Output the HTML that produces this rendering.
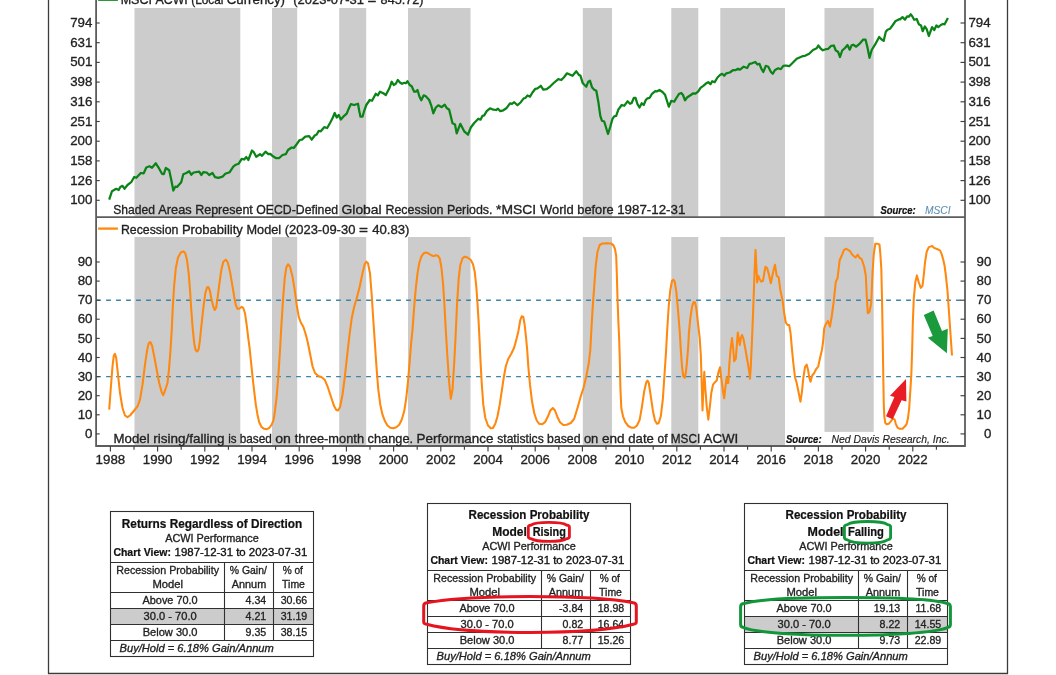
<!DOCTYPE html>
<html><head><meta charset="utf-8"><title>Recession Probability Model</title>
<style>
html,body{margin:0;padding:0;background:#fff;}
body{width:1056px;height:675px;overflow:hidden;}
svg{display:block;font-family:"Liberation Sans", sans-serif;}
text{white-space:pre;}
</style></head><body>
<svg width="1056" height="675" viewBox="0 0 1056 675">
<rect width="1056" height="675" fill="#fff"/>
<rect x="134.5" y="8" width="105.8" height="209.1" fill="#cccccc"/>
<rect x="134.5" y="237" width="105.8" height="209.0" fill="#cccccc"/>
<rect x="272.0" y="8" width="25.2" height="209.1" fill="#cccccc"/>
<rect x="272.0" y="237" width="25.2" height="209.0" fill="#cccccc"/>
<rect x="339.2" y="8" width="27.0" height="209.1" fill="#cccccc"/>
<rect x="339.2" y="237" width="27.0" height="209.0" fill="#cccccc"/>
<rect x="408.0" y="8" width="62.5" height="209.1" fill="#cccccc"/>
<rect x="408.0" y="237" width="62.5" height="209.0" fill="#cccccc"/>
<rect x="582.8" y="8" width="29.2" height="209.1" fill="#cccccc"/>
<rect x="582.8" y="237" width="29.2" height="209.0" fill="#cccccc"/>
<rect x="671.3" y="8" width="27.0" height="209.1" fill="#cccccc"/>
<rect x="671.3" y="237" width="27.0" height="209.0" fill="#cccccc"/>
<rect x="720.3" y="8" width="64.7" height="209.1" fill="#cccccc"/>
<rect x="720.3" y="237" width="64.7" height="209.0" fill="#cccccc"/>
<rect x="824.5" y="8" width="49.2" height="209.1" fill="#cccccc"/>
<rect x="824.5" y="237" width="49.2" height="209.0" fill="#cccccc"/>
<line x1="96.1" x2="965.0" y1="300.2" y2="300.2" stroke="#3d84a8" stroke-width="1.4" stroke-dasharray="4.8 5.2"/>
<line x1="96.1" x2="965.0" y1="376.6" y2="376.6" stroke="#3d84a8" stroke-width="1.4" stroke-dasharray="4.8 5.2"/>
<rect x="785.3" y="431.9" width="166" height="13.6" fill="#fff"/>
<path d="M109.2,199.7 L112.0,191.2 L116.2,188.8 L118.7,190.0 L120.3,187.0 L122.5,185.8 L124.5,188.7 L127.5,185.0 L131.2,182.2 L134.2,177.0 L136.3,177.8 L140.8,173.0 L143.7,173.3 L146.3,167.5 L149.5,166.3 L152.0,167.8 L155.8,163.3 L159.2,168.7 L162.0,173.8 L163.8,174.2 L165.8,168.0 L169.2,170.3 L171.3,180.0 L173.3,190.5 L175.3,186.7 L177.0,187.0 L181.2,182.2 L183.3,174.2 L186.3,173.0 L189.2,171.3 L191.3,174.7 L193.7,172.5 L199.2,171.7 L201.3,175.0 L203.3,172.2 L206.7,172.5 L209.2,175.0 L212.5,173.0 L215.0,177.2 L218.3,177.8 L222.5,176.7 L225.3,173.8 L229.7,172.2 L233.3,166.7 L235.8,164.7 L238.7,163.7 L241.7,158.8 L244.2,159.5 L246.3,157.0 L248.3,160.0 L252.0,150.5 L253.7,152.0 L256.2,156.7 L260.0,154.2 L262.0,155.8 L265.5,151.7 L268.3,154.2 L270.3,153.8 L273.0,156.3 L275.8,158.0 L279.2,158.0 L282.5,155.0 L285.8,154.2 L288.0,150.0 L291.7,147.5 L293.8,148.0 L296.7,144.2 L299.7,140.0 L302.0,139.7 L305.3,136.7 L309.2,136.2 L311.7,139.7 L314.7,135.5 L316.7,134.5 L318.8,130.8 L320.8,131.3 L324.2,127.2 L327.2,128.0 L330.3,122.5 L332.5,118.3 L334.7,113.0 L336.7,117.5 L338.7,115.0 L340.8,119.5 L343.3,116.7 L346.7,113.7 L348.7,108.7 L350.8,104.2 L354.2,105.0 L358.0,103.7 L359.2,110.8 L360.5,116.7 L362.5,116.7 L364.2,110.8 L366.3,105.0 L369.7,100.0 L372.0,100.8 L375.8,93.8 L377.8,95.3 L380.0,91.7 L383.3,93.3 L385.8,95.0 L389.5,88.0 L391.7,81.7 L393.7,85.0 L395.8,83.8 L397.8,80.0 L400.0,82.5 L402.0,83.8 L404.2,82.8 L405.8,83.3 L407.5,81.2 L409.7,85.0 L411.7,86.3 L414.2,91.7 L415.8,91.7 L417.5,90.0 L419.5,96.7 L421.3,100.3 L423.7,95.3 L425.8,96.3 L429.2,100.0 L431.2,105.3 L433.3,113.3 L435.8,107.5 L438.3,105.3 L441.7,107.2 L444.7,104.7 L446.7,108.0 L449.2,109.7 L452.5,123.3 L455.0,124.5 L456.7,133.3 L460.3,123.8 L464.2,131.3 L468.0,134.7 L470.8,127.5 L474.2,123.0 L478.3,118.7 L480.5,119.7 L482.5,115.8 L484.2,115.3 L486.7,111.2 L490.0,108.3 L493.3,109.7 L496.2,110.0 L498.0,108.7 L500.3,111.2 L503.3,110.3 L506.3,108.3 L510.0,103.3 L512.0,103.8 L514.2,102.2 L517.5,105.3 L520.8,102.2 L523.7,98.3 L525.3,98.0 L527.5,95.5 L530.0,96.7 L532.5,92.5 L535.3,88.8 L537.5,88.3 L540.8,85.8 L543.3,89.7 L546.7,89.2 L550.3,86.3 L553.7,83.0 L558.3,79.2 L561.3,80.0 L564.2,77.0 L567.0,73.3 L569.2,74.2 L572.5,75.8 L576.3,71.3 L578.7,74.7 L580.5,75.8 L582.8,83.3 L586.3,86.7 L588.3,81.7 L590.0,80.8 L592.0,87.2 L594.2,89.7 L596.3,90.8 L598.3,101.7 L600.3,115.8 L602.0,120.8 L604.2,121.5 L608.0,134.0 L610.2,127.0 L612.5,118.8 L614.2,116.3 L616.2,115.8 L618.3,109.7 L621.7,105.0 L624.2,105.8 L627.5,101.3 L630.0,103.8 L631.7,103.0 L633.8,97.8 L635.5,97.8 L637.5,104.2 L639.5,107.5 L641.7,103.3 L643.7,105.0 L645.8,100.0 L647.5,98.3 L649.7,97.8 L652.0,93.8 L655.3,91.2 L657.2,91.3 L659.5,90.0 L662.5,92.0 L665.0,94.7 L666.7,100.0 L668.8,106.7 L671.3,100.8 L674.2,101.7 L676.7,97.5 L679.2,93.7 L681.3,93.0 L683.0,95.0 L685.0,100.3 L687.0,97.5 L690.8,95.0 L693.3,93.3 L695.5,93.7 L698.3,91.3 L700.5,87.8 L703.3,85.8 L706.2,83.3 L708.3,82.2 L710.5,84.2 L712.2,81.2 L714.7,82.2 L717.5,77.5 L720.0,75.0 L722.2,73.8 L724.2,75.8 L726.3,73.3 L729.7,72.5 L733.3,70.0 L735.8,70.0 L738.0,68.7 L740.0,69.7 L743.7,66.7 L747.2,68.0 L749.5,63.8 L752.0,63.3 L755.3,62.0 L757.5,64.5 L759.5,63.8 L761.3,68.7 L763.3,72.0 L765.8,65.8 L768.3,66.7 L770.8,71.7 L772.8,73.8 L775.0,70.0 L778.3,68.3 L780.8,69.2 L783.3,65.8 L785.8,65.5 L789.2,66.2 L792.5,63.0 L796.7,58.8 L802.5,56.2 L805.0,55.8 L809.2,53.8 L813.0,50.0 L816.7,48.3 L818.3,45.5 L820.5,48.3 L822.8,50.3 L825.8,49.2 L828.3,48.8 L831.2,45.8 L833.8,45.5 L835.8,50.5 L838.0,51.7 L840.0,57.0 L842.2,50.5 L845.0,48.0 L847.5,45.0 L849.7,49.7 L851.7,45.3 L853.3,44.7 L856.2,46.7 L860.0,43.3 L863.3,39.5 L865.5,39.5 L867.5,47.5 L869.5,57.8 L871.7,50.0 L875.3,44.2 L879.2,37.0 L881.3,39.2 L883.7,40.8 L885.8,31.7 L887.5,29.7 L890.0,28.8 L892.8,25.0 L895.3,21.3 L899.2,19.2 L900.0,19.3 L902.5,17.1 L905.0,19.6 L907.1,16.3 L908.8,16.7 L910.8,14.3 L912.5,16.7 L914.2,19.8 L916.7,19.0 L918.8,24.2 L921.0,25.4 L922.7,31.2 L924.8,26.5 L926.7,29.2 L928.8,36.0 L932.1,27.1 L934.3,30.0 L936.4,25.4 L938.3,27.1 L940.8,25.0 L942.9,24.0 L944.6,24.3 L947.9,17.9" fill="none" stroke="#0a8416" stroke-width="2.25" stroke-linejoin="round" stroke-linecap="butt"/>
<path d="M109.2,409.7 L110.8,388.0 L112.5,366.3 L113.8,355.5 L115.0,353.8 L116.2,358.0 L118.0,374.7 L120.0,393.0 L122.5,408.0 L125.0,415.5 L127.5,417.2 L130.0,415.5 L134.2,410.5 L137.5,406.3 L140.0,399.7 L142.5,384.7 L145.0,364.7 L147.2,349.7 L148.8,343.0 L150.3,342.0 L152.0,345.5 L154.2,356.3 L156.7,369.7 L159.2,383.0 L161.7,392.2 L163.3,395.2 L165.3,389.7 L167.5,383.0 L168.8,371.3 L170.3,353.0 L171.7,331.0 L172.8,306.7 L174.2,285.0 L175.8,268.3 L178.0,257.5 L180.8,252.5 L183.3,251.3 L185.3,253.3 L187.0,260.0 L188.7,273.3 L190.0,290.0 L191.3,310.0 L192.7,328.3 L194.2,343.2 L195.5,349.8 L197.0,351.5 L198.5,349.8 L199.8,341.5 L201.3,326.7 L203.3,308.3 L205.3,293.3 L207.0,287.5 L208.3,287.0 L209.7,290.0 L211.3,298.3 L213.3,306.7 L214.7,310.0 L216.2,307.5 L217.5,298.3 L219.2,285.0 L221.3,270.0 L223.3,261.7 L225.8,259.7 L227.8,262.5 L230.0,271.7 L232.0,283.3 L234.2,296.7 L235.8,305.0 L237.5,308.7 L239.2,308.7 L241.7,306.7 L243.3,308.0 L245.0,313.3 L246.7,325.0 L248.3,338.3 L249.6,348.0 L250.8,359.7 L252.5,376.3 L254.2,391.3 L255.8,404.7 L257.5,414.7 L259.2,422.2 L261.7,427.2 L264.2,428.8 L266.7,429.2 L269.2,428.0 L271.7,424.7 L273.5,420.0 L274.7,413.0 L276.7,396.3 L278.3,376.3 L280.0,350.5 L281.3,326.7 L283.0,300.0 L284.7,278.3 L286.3,267.5 L288.0,264.2 L290.0,266.7 L292.5,276.7 L294.7,290.0 L296.7,305.0 L298.7,316.7 L300.8,322.5 L303.3,326.7 L305.5,333.5 L307.7,342.0 L310.0,353.5 L312.5,366.3 L315.0,373.0 L318.3,376.0 L321.7,377.2 L324.7,379.7 L327.5,386.3 L330.8,396.3 L334.2,406.3 L336.3,410.0 L338.0,410.5 L340.0,407.2 L342.5,394.7 L344.7,378.0 L346.7,359.7 L348.5,343.5 L349.7,333.3 L351.7,318.3 L354.2,306.7 L356.7,298.3 L359.7,286.7 L362.5,273.3 L364.7,264.2 L366.3,261.7 L368.0,263.3 L370.0,273.3 L371.7,295.0 L373.3,320.0 L374.6,339.0 L375.4,351.0 L376.7,369.7 L378.3,389.7 L380.3,404.7 L382.5,414.7 L385.0,421.3 L387.5,425.5 L390.3,427.7 L393.3,428.3 L396.3,427.2 L399.2,424.7 L401.7,419.7 L404.2,411.3 L406.3,398.0 L408.0,381.3 L409.7,361.3 L411.1,343.5 L412.5,330.0 L414.2,306.7 L415.8,288.3 L417.5,273.3 L419.2,263.3 L421.3,256.7 L423.7,253.3 L425.8,252.5 L428.3,253.3 L430.8,255.0 L433.3,256.2 L435.8,255.3 L438.0,255.8 L439.7,258.3 L441.3,266.7 L443.0,283.0 L444.4,304.0 L445.6,327.0 L447.3,355.0 L449.2,383.0 L450.8,398.8 L452.5,389.7 L454.2,363.0 L455.5,338.0 L457.0,305.0 L458.7,278.3 L460.3,265.0 L462.5,258.3 L464.7,256.7 L467.5,257.5 L470.8,260.0 L473.0,264.2 L474.7,271.7 L476.3,286.7 L477.5,303.3 L478.7,323.3 L479.6,341.0 L480.4,359.0 L481.7,383.0 L483.3,404.7 L485.3,418.0 L488.0,425.5 L490.8,428.3 L493.0,428.0 L495.3,423.8 L497.5,416.3 L499.7,404.7 L501.7,391.3 L503.7,378.0 L505.8,366.3 L508.3,358.8 L511.3,353.8 L514.2,347.5 L516.3,339.7 L518.3,331.7 L520.3,320.0 L521.7,316.3 L523.3,317.0 L524.7,325.0 L526.2,339.0 L527.2,350.0 L528.3,366.3 L530.0,384.7 L532.0,401.3 L534.2,413.0 L536.7,420.5 L539.2,423.8 L542.0,424.3 L545.0,422.2 L548.0,416.3 L550.3,410.5 L552.8,408.0 L555.0,410.5 L557.5,417.2 L560.0,422.2 L563.3,425.0 L566.7,424.7 L570.8,423.0 L574.2,418.8 L577.5,408.0 L580.8,396.3 L583.7,387.2 L586.3,376.3 L588.8,363.0 L590.3,350.0 L591.2,333.3 L592.5,310.0 L594.2,286.7 L595.8,265.0 L597.5,251.7 L599.7,245.0 L602.5,243.5 L606.7,243.3 L610.8,243.5 L613.3,245.0 L615.0,249.0 L616.2,256.0 L616.8,273.3 L617.5,298.3 L618.3,320.0 L619.2,340.0 L619.8,360.0 L620.4,388.0 L621.3,408.0 L623.0,416.3 L625.3,422.2 L628.3,426.0 L631.3,427.7 L634.2,427.7 L637.0,425.5 L639.7,419.7 L642.0,406.3 L644.2,391.3 L646.3,382.2 L647.5,380.5 L648.8,383.0 L650.8,396.3 L653.0,411.3 L655.0,420.5 L657.0,423.8 L658.7,423.0 L660.8,416.3 L662.8,399.7 L664.5,374.7 L666.0,352.0 L667.2,330.0 L668.7,306.7 L670.3,290.0 L672.0,280.8 L673.3,279.7 L674.7,281.7 L676.3,291.7 L678.0,310.0 L679.7,331.0 L680.8,349.7 L682.0,366.3 L683.3,376.3 L684.7,377.7 L685.8,373.0 L687.0,362.0 L688.3,345.0 L688.9,333.3 L690.3,318.3 L692.2,305.8 L693.7,302.0 L695.0,302.5 L696.3,308.3 L698.0,323.3 L699.7,338.0 L700.8,354.7 L701.7,383.0 L702.5,410.5 L703.3,391.3 L704.3,371.8 L705.3,388.0 L706.7,406.3 L708.3,419.7 L709.7,408.0 L711.3,393.0 L713.0,384.7 L715.0,382.2 L716.7,380.5 L718.7,371.3 L720.0,367.2 L721.3,378.0 L723.0,391.3 L724.2,398.3 L725.3,388.0 L726.7,377.2 L727.5,383.0 L728.3,383.0 L729.2,366.3 L730.5,349.7 L732.0,338.0 L733.3,350.0 L734.2,361.3 L735.8,358.8 L737.0,343.0 L737.8,332.5 L738.8,338.3 L739.8,345.0 L740.8,338.3 L742.0,335.0 L743.3,338.3 L745.0,347.0 L747.5,361.3 L749.2,371.3 L750.0,378.8 L750.8,366.3 L752.0,340.0 L753.3,306.7 L754.5,273.3 L755.5,250.0 L756.3,265.0 L757.2,282.5 L758.3,275.8 L759.7,279.2 L761.3,281.7 L763.0,280.8 L764.2,273.3 L765.5,266.7 L767.2,268.3 L769.2,275.8 L770.8,283.3 L772.5,275.0 L774.2,267.5 L775.0,264.7 L776.7,275.8 L778.7,277.5 L780.3,290.0 L782.5,300.0 L784.2,313.3 L785.8,322.5 L787.5,325.0 L789.2,325.0 L790.6,333.3 L791.7,346.3 L793.3,363.0 L795.0,377.2 L796.7,383.0 L798.7,393.0 L800.5,401.7 L802.0,391.3 L803.3,378.0 L805.0,367.2 L806.7,364.7 L808.0,369.7 L809.2,377.2 L810.5,381.7 L812.2,375.5 L814.2,373.0 L816.3,368.8 L818.3,366.3 L820.0,358.0 L822.0,349.7 L823.2,341.0 L824.2,328.3 L825.8,324.2 L828.0,320.8 L830.0,326.7 L831.7,316.7 L833.7,301.7 L835.8,281.7 L837.5,278.3 L839.7,260.0 L841.7,255.8 L843.8,250.3 L845.8,248.7 L849.7,250.8 L852.5,255.0 L855.5,257.5 L857.8,254.7 L859.7,258.0 L861.7,259.2 L864.2,266.7 L865.8,275.8 L866.7,295.0 L867.8,313.3 L869.5,311.7 L871.2,303.3 L872.5,273.3 L873.7,255.0 L875.3,243.7 L877.5,243.7 L879.5,244.7 L880.3,253.3 L881.3,268.3 L882.0,298.3 L882.6,331.7 L883.0,358.0 L883.4,383.0 L883.8,404.7 L884.3,416.3 L885.3,423.0 L886.7,424.3 L888.7,423.8 L890.8,421.3 L893.0,418.3 L894.7,419.7 L895.8,423.8 L897.5,427.7 L899.7,428.8 L902.5,428.8 L905.0,426.3 L906.7,423.8 L908.0,418.0 L909.2,408.0 L910.3,391.3 L911.3,374.7 L912.1,352.0 L912.8,323.3 L913.8,298.3 L915.4,281.7 L916.9,275.4 L918.8,282.5 L920.8,287.9 L922.5,285.8 L923.8,275.0 L925.0,262.5 L926.7,251.7 L928.8,247.1 L932.1,246.0 L934.2,247.9 L937.5,249.3 L940.0,250.4 L941.7,254.2 L943.3,260.0 L944.6,265.8 L945.8,275.0 L946.7,283.3 L947.5,291.0 L952.0,355.5" fill="none" stroke="#ff880e" stroke-width="2.05" stroke-linejoin="round" stroke-linecap="butt"/>
<line x1="98.1" x2="117.9" y1="-0.3" y2="-0.3" stroke="#0a8416" stroke-width="2.3"/>
<line x1="98.1" x2="117.9" y1="228.6" y2="228.6" stroke="#ff880e" stroke-width="2.3"/>
<path d="M48.5,0 V673.5 H1007.5 V0" fill="none" stroke="#3c3c3c" stroke-width="1.3"/>
<path d="M96.1,0 V446.0 H965.0 V0" fill="none" stroke="#5c5c5c" stroke-width="1.8"/>
<line x1="96.1" x2="965.0" y1="217.05" y2="217.05" stroke="#5c5c5c" stroke-width="1.7"/>
<line x1="96.1" x2="99.69999999999999" y1="23.0" y2="23.0" stroke="#404040" stroke-width="1.15"/>
<line x1="960.5" x2="965.0" y1="23.0" y2="23.0" stroke="#404040" stroke-width="1.15"/>
<text xml:space="preserve" x="92.4" y="27.0" font-size="13.3" font-weight="normal" font-style="normal" text-anchor="end" fill="#222" stroke="#222" stroke-width="0.32" textLength="22.2" lengthAdjust="spacingAndGlyphs">794</text>
<text xml:space="preserve" x="968.4" y="27.0" font-size="13.3" font-weight="normal" font-style="normal" text-anchor="start" fill="#222" stroke="#222" stroke-width="0.32" textLength="22.2" lengthAdjust="spacingAndGlyphs">794</text>
<line x1="96.1" x2="99.69999999999999" y1="42.7" y2="42.7" stroke="#404040" stroke-width="1.15"/>
<line x1="960.5" x2="965.0" y1="42.7" y2="42.7" stroke="#404040" stroke-width="1.15"/>
<text xml:space="preserve" x="92.4" y="46.7" font-size="13.3" font-weight="normal" font-style="normal" text-anchor="end" fill="#222" stroke="#222" stroke-width="0.32" textLength="22.2" lengthAdjust="spacingAndGlyphs">631</text>
<text xml:space="preserve" x="968.4" y="46.7" font-size="13.3" font-weight="normal" font-style="normal" text-anchor="start" fill="#222" stroke="#222" stroke-width="0.32" textLength="22.2" lengthAdjust="spacingAndGlyphs">631</text>
<line x1="96.1" x2="99.69999999999999" y1="62.4" y2="62.4" stroke="#404040" stroke-width="1.15"/>
<line x1="960.5" x2="965.0" y1="62.4" y2="62.4" stroke="#404040" stroke-width="1.15"/>
<text xml:space="preserve" x="92.4" y="66.4" font-size="13.3" font-weight="normal" font-style="normal" text-anchor="end" fill="#222" stroke="#222" stroke-width="0.32" textLength="22.2" lengthAdjust="spacingAndGlyphs">501</text>
<text xml:space="preserve" x="968.4" y="66.4" font-size="13.3" font-weight="normal" font-style="normal" text-anchor="start" fill="#222" stroke="#222" stroke-width="0.32" textLength="22.2" lengthAdjust="spacingAndGlyphs">501</text>
<line x1="96.1" x2="99.69999999999999" y1="82.1" y2="82.1" stroke="#404040" stroke-width="1.15"/>
<line x1="960.5" x2="965.0" y1="82.1" y2="82.1" stroke="#404040" stroke-width="1.15"/>
<text xml:space="preserve" x="92.4" y="86.1" font-size="13.3" font-weight="normal" font-style="normal" text-anchor="end" fill="#222" stroke="#222" stroke-width="0.32" textLength="22.2" lengthAdjust="spacingAndGlyphs">398</text>
<text xml:space="preserve" x="968.4" y="86.1" font-size="13.3" font-weight="normal" font-style="normal" text-anchor="start" fill="#222" stroke="#222" stroke-width="0.32" textLength="22.2" lengthAdjust="spacingAndGlyphs">398</text>
<line x1="96.1" x2="99.69999999999999" y1="101.8" y2="101.8" stroke="#404040" stroke-width="1.15"/>
<line x1="960.5" x2="965.0" y1="101.8" y2="101.8" stroke="#404040" stroke-width="1.15"/>
<text xml:space="preserve" x="92.4" y="105.8" font-size="13.3" font-weight="normal" font-style="normal" text-anchor="end" fill="#222" stroke="#222" stroke-width="0.32" textLength="22.2" lengthAdjust="spacingAndGlyphs">316</text>
<text xml:space="preserve" x="968.4" y="105.8" font-size="13.3" font-weight="normal" font-style="normal" text-anchor="start" fill="#222" stroke="#222" stroke-width="0.32" textLength="22.2" lengthAdjust="spacingAndGlyphs">316</text>
<line x1="96.1" x2="99.69999999999999" y1="121.5" y2="121.5" stroke="#404040" stroke-width="1.15"/>
<line x1="960.5" x2="965.0" y1="121.5" y2="121.5" stroke="#404040" stroke-width="1.15"/>
<text xml:space="preserve" x="92.4" y="125.5" font-size="13.3" font-weight="normal" font-style="normal" text-anchor="end" fill="#222" stroke="#222" stroke-width="0.32" textLength="22.2" lengthAdjust="spacingAndGlyphs">251</text>
<text xml:space="preserve" x="968.4" y="125.5" font-size="13.3" font-weight="normal" font-style="normal" text-anchor="start" fill="#222" stroke="#222" stroke-width="0.32" textLength="22.2" lengthAdjust="spacingAndGlyphs">251</text>
<line x1="96.1" x2="99.69999999999999" y1="141.2" y2="141.2" stroke="#404040" stroke-width="1.15"/>
<line x1="960.5" x2="965.0" y1="141.2" y2="141.2" stroke="#404040" stroke-width="1.15"/>
<text xml:space="preserve" x="92.4" y="145.2" font-size="13.3" font-weight="normal" font-style="normal" text-anchor="end" fill="#222" stroke="#222" stroke-width="0.32" textLength="22.2" lengthAdjust="spacingAndGlyphs">200</text>
<text xml:space="preserve" x="968.4" y="145.2" font-size="13.3" font-weight="normal" font-style="normal" text-anchor="start" fill="#222" stroke="#222" stroke-width="0.32" textLength="22.2" lengthAdjust="spacingAndGlyphs">200</text>
<line x1="96.1" x2="99.69999999999999" y1="160.9" y2="160.9" stroke="#404040" stroke-width="1.15"/>
<line x1="960.5" x2="965.0" y1="160.9" y2="160.9" stroke="#404040" stroke-width="1.15"/>
<text xml:space="preserve" x="92.4" y="164.9" font-size="13.3" font-weight="normal" font-style="normal" text-anchor="end" fill="#222" stroke="#222" stroke-width="0.32" textLength="22.2" lengthAdjust="spacingAndGlyphs">158</text>
<text xml:space="preserve" x="968.4" y="164.9" font-size="13.3" font-weight="normal" font-style="normal" text-anchor="start" fill="#222" stroke="#222" stroke-width="0.32" textLength="22.2" lengthAdjust="spacingAndGlyphs">158</text>
<line x1="96.1" x2="99.69999999999999" y1="180.6" y2="180.6" stroke="#404040" stroke-width="1.15"/>
<line x1="960.5" x2="965.0" y1="180.6" y2="180.6" stroke="#404040" stroke-width="1.15"/>
<text xml:space="preserve" x="92.4" y="184.6" font-size="13.3" font-weight="normal" font-style="normal" text-anchor="end" fill="#222" stroke="#222" stroke-width="0.32" textLength="22.2" lengthAdjust="spacingAndGlyphs">126</text>
<text xml:space="preserve" x="968.4" y="184.6" font-size="13.3" font-weight="normal" font-style="normal" text-anchor="start" fill="#222" stroke="#222" stroke-width="0.32" textLength="22.2" lengthAdjust="spacingAndGlyphs">126</text>
<line x1="96.1" x2="99.69999999999999" y1="200.3" y2="200.3" stroke="#404040" stroke-width="1.15"/>
<line x1="960.5" x2="965.0" y1="200.3" y2="200.3" stroke="#404040" stroke-width="1.15"/>
<text xml:space="preserve" x="92.4" y="204.3" font-size="13.3" font-weight="normal" font-style="normal" text-anchor="end" fill="#222" stroke="#222" stroke-width="0.32" textLength="22.2" lengthAdjust="spacingAndGlyphs">100</text>
<text xml:space="preserve" x="968.4" y="204.3" font-size="13.3" font-weight="normal" font-style="normal" text-anchor="start" fill="#222" stroke="#222" stroke-width="0.32" textLength="22.2" lengthAdjust="spacingAndGlyphs">100</text>
<line x1="96.1" x2="99.69999999999999" y1="433.9" y2="433.9" stroke="#404040" stroke-width="1.15"/>
<line x1="960.5" x2="965.0" y1="433.9" y2="433.9" stroke="#404040" stroke-width="1.15"/>
<text xml:space="preserve" x="92.5" y="438.0" font-size="13.3" font-weight="normal" font-style="normal" text-anchor="end" fill="#222" stroke="#222" stroke-width="0.32" textLength="7.4" lengthAdjust="spacingAndGlyphs">0</text>
<text xml:space="preserve" x="991.3" y="438.0" font-size="13.3" font-weight="normal" font-style="normal" text-anchor="end" fill="#222" stroke="#222" stroke-width="0.32" textLength="7.4" lengthAdjust="spacingAndGlyphs">0</text>
<line x1="96.1" x2="99.69999999999999" y1="414.8" y2="414.8" stroke="#404040" stroke-width="1.15"/>
<line x1="960.5" x2="965.0" y1="414.8" y2="414.8" stroke="#404040" stroke-width="1.15"/>
<text xml:space="preserve" x="92.5" y="418.9" font-size="13.3" font-weight="normal" font-style="normal" text-anchor="end" fill="#222" stroke="#222" stroke-width="0.32" textLength="14.8" lengthAdjust="spacingAndGlyphs">10</text>
<text xml:space="preserve" x="991.3" y="418.9" font-size="13.3" font-weight="normal" font-style="normal" text-anchor="end" fill="#222" stroke="#222" stroke-width="0.32" textLength="14.8" lengthAdjust="spacingAndGlyphs">10</text>
<line x1="96.1" x2="99.69999999999999" y1="395.7" y2="395.7" stroke="#404040" stroke-width="1.15"/>
<line x1="960.5" x2="965.0" y1="395.7" y2="395.7" stroke="#404040" stroke-width="1.15"/>
<text xml:space="preserve" x="92.5" y="399.8" font-size="13.3" font-weight="normal" font-style="normal" text-anchor="end" fill="#222" stroke="#222" stroke-width="0.32" textLength="14.8" lengthAdjust="spacingAndGlyphs">20</text>
<text xml:space="preserve" x="991.3" y="399.8" font-size="13.3" font-weight="normal" font-style="normal" text-anchor="end" fill="#222" stroke="#222" stroke-width="0.32" textLength="14.8" lengthAdjust="spacingAndGlyphs">20</text>
<line x1="96.1" x2="99.69999999999999" y1="376.6" y2="376.6" stroke="#404040" stroke-width="1.15"/>
<line x1="960.5" x2="965.0" y1="376.6" y2="376.6" stroke="#404040" stroke-width="1.15"/>
<text xml:space="preserve" x="92.5" y="380.7" font-size="13.3" font-weight="normal" font-style="normal" text-anchor="end" fill="#222" stroke="#222" stroke-width="0.32" textLength="14.8" lengthAdjust="spacingAndGlyphs">30</text>
<text xml:space="preserve" x="991.3" y="380.7" font-size="13.3" font-weight="normal" font-style="normal" text-anchor="end" fill="#222" stroke="#222" stroke-width="0.32" textLength="14.8" lengthAdjust="spacingAndGlyphs">30</text>
<line x1="96.1" x2="99.69999999999999" y1="357.5" y2="357.5" stroke="#404040" stroke-width="1.15"/>
<line x1="960.5" x2="965.0" y1="357.5" y2="357.5" stroke="#404040" stroke-width="1.15"/>
<text xml:space="preserve" x="92.5" y="361.6" font-size="13.3" font-weight="normal" font-style="normal" text-anchor="end" fill="#222" stroke="#222" stroke-width="0.32" textLength="14.8" lengthAdjust="spacingAndGlyphs">40</text>
<text xml:space="preserve" x="991.3" y="361.6" font-size="13.3" font-weight="normal" font-style="normal" text-anchor="end" fill="#222" stroke="#222" stroke-width="0.32" textLength="14.8" lengthAdjust="spacingAndGlyphs">40</text>
<line x1="96.1" x2="99.69999999999999" y1="338.4" y2="338.4" stroke="#404040" stroke-width="1.15"/>
<line x1="960.5" x2="965.0" y1="338.4" y2="338.4" stroke="#404040" stroke-width="1.15"/>
<text xml:space="preserve" x="92.5" y="342.5" font-size="13.3" font-weight="normal" font-style="normal" text-anchor="end" fill="#222" stroke="#222" stroke-width="0.32" textLength="14.8" lengthAdjust="spacingAndGlyphs">50</text>
<text xml:space="preserve" x="991.3" y="342.5" font-size="13.3" font-weight="normal" font-style="normal" text-anchor="end" fill="#222" stroke="#222" stroke-width="0.32" textLength="14.8" lengthAdjust="spacingAndGlyphs">50</text>
<line x1="96.1" x2="99.69999999999999" y1="319.2" y2="319.2" stroke="#404040" stroke-width="1.15"/>
<line x1="960.5" x2="965.0" y1="319.2" y2="319.2" stroke="#404040" stroke-width="1.15"/>
<text xml:space="preserve" x="92.5" y="323.4" font-size="13.3" font-weight="normal" font-style="normal" text-anchor="end" fill="#222" stroke="#222" stroke-width="0.32" textLength="14.8" lengthAdjust="spacingAndGlyphs">60</text>
<text xml:space="preserve" x="991.3" y="323.4" font-size="13.3" font-weight="normal" font-style="normal" text-anchor="end" fill="#222" stroke="#222" stroke-width="0.32" textLength="14.8" lengthAdjust="spacingAndGlyphs">60</text>
<line x1="96.1" x2="99.69999999999999" y1="300.2" y2="300.2" stroke="#404040" stroke-width="1.15"/>
<line x1="960.5" x2="965.0" y1="300.2" y2="300.2" stroke="#404040" stroke-width="1.15"/>
<text xml:space="preserve" x="92.5" y="304.3" font-size="13.3" font-weight="normal" font-style="normal" text-anchor="end" fill="#222" stroke="#222" stroke-width="0.32" textLength="14.8" lengthAdjust="spacingAndGlyphs">70</text>
<text xml:space="preserve" x="991.3" y="304.3" font-size="13.3" font-weight="normal" font-style="normal" text-anchor="end" fill="#222" stroke="#222" stroke-width="0.32" textLength="14.8" lengthAdjust="spacingAndGlyphs">70</text>
<line x1="96.1" x2="99.69999999999999" y1="281.1" y2="281.1" stroke="#404040" stroke-width="1.15"/>
<line x1="960.5" x2="965.0" y1="281.1" y2="281.1" stroke="#404040" stroke-width="1.15"/>
<text xml:space="preserve" x="92.5" y="285.2" font-size="13.3" font-weight="normal" font-style="normal" text-anchor="end" fill="#222" stroke="#222" stroke-width="0.32" textLength="14.8" lengthAdjust="spacingAndGlyphs">80</text>
<text xml:space="preserve" x="991.3" y="285.2" font-size="13.3" font-weight="normal" font-style="normal" text-anchor="end" fill="#222" stroke="#222" stroke-width="0.32" textLength="14.8" lengthAdjust="spacingAndGlyphs">80</text>
<line x1="96.1" x2="99.69999999999999" y1="262.0" y2="262.0" stroke="#404040" stroke-width="1.15"/>
<line x1="960.5" x2="965.0" y1="262.0" y2="262.0" stroke="#404040" stroke-width="1.15"/>
<text xml:space="preserve" x="92.5" y="266.1" font-size="13.3" font-weight="normal" font-style="normal" text-anchor="end" fill="#222" stroke="#222" stroke-width="0.32" textLength="14.8" lengthAdjust="spacingAndGlyphs">90</text>
<text xml:space="preserve" x="991.3" y="266.1" font-size="13.3" font-weight="normal" font-style="normal" text-anchor="end" fill="#222" stroke="#222" stroke-width="0.32" textLength="14.8" lengthAdjust="spacingAndGlyphs">90</text>
<line x1="110.4" x2="110.4" y1="446.0" y2="451.5" stroke="#404040" stroke-width="1.15"/>
<text xml:space="preserve" x="110.4" y="464.2" font-size="13.3" font-weight="normal" font-style="normal" text-anchor="middle" fill="#222" stroke="#222" stroke-width="0.32" textLength="29.6" lengthAdjust="spacingAndGlyphs">1988</text>
<line x1="134.0" x2="134.0" y1="446.0" y2="449.8" stroke="#404040" stroke-width="1.15"/>
<line x1="157.6" x2="157.6" y1="446.0" y2="451.5" stroke="#404040" stroke-width="1.15"/>
<text xml:space="preserve" x="157.6" y="464.2" font-size="13.3" font-weight="normal" font-style="normal" text-anchor="middle" fill="#222" stroke="#222" stroke-width="0.32" textLength="29.6" lengthAdjust="spacingAndGlyphs">1990</text>
<line x1="181.2" x2="181.2" y1="446.0" y2="449.8" stroke="#404040" stroke-width="1.15"/>
<line x1="204.8" x2="204.8" y1="446.0" y2="451.5" stroke="#404040" stroke-width="1.15"/>
<text xml:space="preserve" x="204.8" y="464.2" font-size="13.3" font-weight="normal" font-style="normal" text-anchor="middle" fill="#222" stroke="#222" stroke-width="0.32" textLength="29.6" lengthAdjust="spacingAndGlyphs">1992</text>
<line x1="228.4" x2="228.4" y1="446.0" y2="449.8" stroke="#404040" stroke-width="1.15"/>
<line x1="252.0" x2="252.0" y1="446.0" y2="451.5" stroke="#404040" stroke-width="1.15"/>
<text xml:space="preserve" x="252.0" y="464.2" font-size="13.3" font-weight="normal" font-style="normal" text-anchor="middle" fill="#222" stroke="#222" stroke-width="0.32" textLength="29.6" lengthAdjust="spacingAndGlyphs">1994</text>
<line x1="275.6" x2="275.6" y1="446.0" y2="449.8" stroke="#404040" stroke-width="1.15"/>
<line x1="299.2" x2="299.2" y1="446.0" y2="451.5" stroke="#404040" stroke-width="1.15"/>
<text xml:space="preserve" x="299.2" y="464.2" font-size="13.3" font-weight="normal" font-style="normal" text-anchor="middle" fill="#222" stroke="#222" stroke-width="0.32" textLength="29.6" lengthAdjust="spacingAndGlyphs">1996</text>
<line x1="322.8" x2="322.8" y1="446.0" y2="449.8" stroke="#404040" stroke-width="1.15"/>
<line x1="346.4" x2="346.4" y1="446.0" y2="451.5" stroke="#404040" stroke-width="1.15"/>
<text xml:space="preserve" x="346.4" y="464.2" font-size="13.3" font-weight="normal" font-style="normal" text-anchor="middle" fill="#222" stroke="#222" stroke-width="0.32" textLength="29.6" lengthAdjust="spacingAndGlyphs">1998</text>
<line x1="370.0" x2="370.0" y1="446.0" y2="449.8" stroke="#404040" stroke-width="1.15"/>
<line x1="393.6" x2="393.6" y1="446.0" y2="451.5" stroke="#404040" stroke-width="1.15"/>
<text xml:space="preserve" x="393.6" y="464.2" font-size="13.3" font-weight="normal" font-style="normal" text-anchor="middle" fill="#222" stroke="#222" stroke-width="0.32" textLength="29.6" lengthAdjust="spacingAndGlyphs">2000</text>
<line x1="417.2" x2="417.2" y1="446.0" y2="449.8" stroke="#404040" stroke-width="1.15"/>
<line x1="440.8" x2="440.8" y1="446.0" y2="451.5" stroke="#404040" stroke-width="1.15"/>
<text xml:space="preserve" x="440.8" y="464.2" font-size="13.3" font-weight="normal" font-style="normal" text-anchor="middle" fill="#222" stroke="#222" stroke-width="0.32" textLength="29.6" lengthAdjust="spacingAndGlyphs">2002</text>
<line x1="464.4" x2="464.4" y1="446.0" y2="449.8" stroke="#404040" stroke-width="1.15"/>
<line x1="488.0" x2="488.0" y1="446.0" y2="451.5" stroke="#404040" stroke-width="1.15"/>
<text xml:space="preserve" x="488.0" y="464.2" font-size="13.3" font-weight="normal" font-style="normal" text-anchor="middle" fill="#222" stroke="#222" stroke-width="0.32" textLength="29.6" lengthAdjust="spacingAndGlyphs">2004</text>
<line x1="511.6" x2="511.6" y1="446.0" y2="449.8" stroke="#404040" stroke-width="1.15"/>
<line x1="535.2" x2="535.2" y1="446.0" y2="451.5" stroke="#404040" stroke-width="1.15"/>
<text xml:space="preserve" x="535.2" y="464.2" font-size="13.3" font-weight="normal" font-style="normal" text-anchor="middle" fill="#222" stroke="#222" stroke-width="0.32" textLength="29.6" lengthAdjust="spacingAndGlyphs">2006</text>
<line x1="558.8" x2="558.8" y1="446.0" y2="449.8" stroke="#404040" stroke-width="1.15"/>
<line x1="582.4" x2="582.4" y1="446.0" y2="451.5" stroke="#404040" stroke-width="1.15"/>
<text xml:space="preserve" x="582.4" y="464.2" font-size="13.3" font-weight="normal" font-style="normal" text-anchor="middle" fill="#222" stroke="#222" stroke-width="0.32" textLength="29.6" lengthAdjust="spacingAndGlyphs">2008</text>
<line x1="606.0" x2="606.0" y1="446.0" y2="449.8" stroke="#404040" stroke-width="1.15"/>
<line x1="629.6" x2="629.6" y1="446.0" y2="451.5" stroke="#404040" stroke-width="1.15"/>
<text xml:space="preserve" x="629.6" y="464.2" font-size="13.3" font-weight="normal" font-style="normal" text-anchor="middle" fill="#222" stroke="#222" stroke-width="0.32" textLength="29.6" lengthAdjust="spacingAndGlyphs">2010</text>
<line x1="653.2" x2="653.2" y1="446.0" y2="449.8" stroke="#404040" stroke-width="1.15"/>
<line x1="676.8" x2="676.8" y1="446.0" y2="451.5" stroke="#404040" stroke-width="1.15"/>
<text xml:space="preserve" x="676.8" y="464.2" font-size="13.3" font-weight="normal" font-style="normal" text-anchor="middle" fill="#222" stroke="#222" stroke-width="0.32" textLength="29.6" lengthAdjust="spacingAndGlyphs">2012</text>
<line x1="700.4" x2="700.4" y1="446.0" y2="449.8" stroke="#404040" stroke-width="1.15"/>
<line x1="724.0" x2="724.0" y1="446.0" y2="451.5" stroke="#404040" stroke-width="1.15"/>
<text xml:space="preserve" x="724.0" y="464.2" font-size="13.3" font-weight="normal" font-style="normal" text-anchor="middle" fill="#222" stroke="#222" stroke-width="0.32" textLength="29.6" lengthAdjust="spacingAndGlyphs">2014</text>
<line x1="747.6" x2="747.6" y1="446.0" y2="449.8" stroke="#404040" stroke-width="1.15"/>
<line x1="771.2" x2="771.2" y1="446.0" y2="451.5" stroke="#404040" stroke-width="1.15"/>
<text xml:space="preserve" x="771.2" y="464.2" font-size="13.3" font-weight="normal" font-style="normal" text-anchor="middle" fill="#222" stroke="#222" stroke-width="0.32" textLength="29.6" lengthAdjust="spacingAndGlyphs">2016</text>
<line x1="794.8" x2="794.8" y1="446.0" y2="449.8" stroke="#404040" stroke-width="1.15"/>
<line x1="818.4" x2="818.4" y1="446.0" y2="451.5" stroke="#404040" stroke-width="1.15"/>
<text xml:space="preserve" x="818.4" y="464.2" font-size="13.3" font-weight="normal" font-style="normal" text-anchor="middle" fill="#222" stroke="#222" stroke-width="0.32" textLength="29.6" lengthAdjust="spacingAndGlyphs">2018</text>
<line x1="842.0" x2="842.0" y1="446.0" y2="449.8" stroke="#404040" stroke-width="1.15"/>
<line x1="865.6" x2="865.6" y1="446.0" y2="451.5" stroke="#404040" stroke-width="1.15"/>
<text xml:space="preserve" x="865.6" y="464.2" font-size="13.3" font-weight="normal" font-style="normal" text-anchor="middle" fill="#222" stroke="#222" stroke-width="0.32" textLength="29.6" lengthAdjust="spacingAndGlyphs">2020</text>
<line x1="889.2" x2="889.2" y1="446.0" y2="449.8" stroke="#404040" stroke-width="1.15"/>
<line x1="912.8" x2="912.8" y1="446.0" y2="451.5" stroke="#404040" stroke-width="1.15"/>
<text xml:space="preserve" x="912.8" y="464.2" font-size="13.3" font-weight="normal" font-style="normal" text-anchor="middle" fill="#222" stroke="#222" stroke-width="0.32" textLength="29.6" lengthAdjust="spacingAndGlyphs">2022</text>
<line x1="936.4" x2="936.4" y1="446.0" y2="449.8" stroke="#404040" stroke-width="1.15"/>
<text xml:space="preserve" x="120.7" y="3.9" font-size="12.6" font-weight="normal" font-style="normal" text-anchor="start" fill="#222" stroke="#222" stroke-width="0.32" textLength="34.8" lengthAdjust="spacingAndGlyphs">MSCI </text>
<text xml:space="preserve" x="155.5" y="3.9" font-size="12.6" font-weight="normal" font-style="normal" text-anchor="start" fill="#222" stroke="#222" stroke-width="0.32" textLength="35.7" lengthAdjust="spacingAndGlyphs">ACWI </text>
<text xml:space="preserve" x="191.2" y="3.9" font-size="12.6" font-weight="normal" font-style="normal" text-anchor="start" fill="#222" stroke="#222" stroke-width="0.32" textLength="35.5" lengthAdjust="spacingAndGlyphs">(Local </text>
<text xml:space="preserve" x="226.7" y="3.9" font-size="12.6" font-weight="normal" font-style="normal" text-anchor="start" fill="#222" stroke="#222" stroke-width="0.32" textLength="58.3" lengthAdjust="spacingAndGlyphs">Currency)</text>
<text xml:space="preserve" x="285.2" y="3.9" font-size="12.6" font-weight="normal" font-style="normal" text-anchor="start" fill="#222" stroke="#222" stroke-width="0.32">*</text>
<text xml:space="preserve" x="293.3" y="3.9" font-size="12.6" font-weight="normal" font-style="normal" text-anchor="start" fill="#222" stroke="#222" stroke-width="0.32" textLength="74.3" lengthAdjust="spacingAndGlyphs">(2023-07-31 </text>
<text xml:space="preserve" x="367.6" y="3.9" font-size="12.6" font-weight="normal" font-style="normal" text-anchor="start" fill="#222" stroke="#222" stroke-width="0.32" textLength="13.0" lengthAdjust="spacingAndGlyphs">= </text>
<text xml:space="preserve" x="380.6" y="3.9" font-size="12.6" font-weight="normal" font-style="normal" text-anchor="start" fill="#222" stroke="#222" stroke-width="0.32" textLength="42.9" lengthAdjust="spacingAndGlyphs">845.72)</text>
<text xml:space="preserve" x="113.3" y="213.7" font-size="12.6" font-weight="normal" font-style="normal" text-anchor="start" fill="#222" stroke="#222" stroke-width="0.32" textLength="45.0" lengthAdjust="spacingAndGlyphs">Shaded </text>
<text xml:space="preserve" x="158.3" y="213.7" font-size="12.6" font-weight="normal" font-style="normal" text-anchor="start" fill="#222" stroke="#222" stroke-width="0.32" textLength="36.9" lengthAdjust="spacingAndGlyphs">Areas </text>
<text xml:space="preserve" x="195.2" y="213.7" font-size="12.6" font-weight="normal" font-style="normal" text-anchor="start" fill="#222" stroke="#222" stroke-width="0.32" textLength="61.1" lengthAdjust="spacingAndGlyphs">Represent </text>
<text xml:space="preserve" x="256.3" y="213.7" font-size="12.6" font-weight="normal" font-style="normal" text-anchor="start" fill="#222" stroke="#222" stroke-width="0.32" textLength="85.2" lengthAdjust="spacingAndGlyphs">OECD-Defined </text>
<text xml:space="preserve" x="341.5" y="213.7" font-size="12.6" font-weight="normal" font-style="normal" text-anchor="start" fill="#222" stroke="#222" stroke-width="0.32" textLength="44.0" lengthAdjust="spacingAndGlyphs">Global </text>
<text xml:space="preserve" x="385.5" y="213.7" font-size="12.6" font-weight="normal" font-style="normal" text-anchor="start" fill="#222" stroke="#222" stroke-width="0.32" textLength="61.4" lengthAdjust="spacingAndGlyphs">Recession </text>
<text xml:space="preserve" x="446.9" y="213.7" font-size="12.6" font-weight="normal" font-style="normal" text-anchor="start" fill="#222" stroke="#222" stroke-width="0.32" textLength="49.1" lengthAdjust="spacingAndGlyphs">Periods. </text>
<text xml:space="preserve" x="496.0" y="213.7" font-size="12.6" font-weight="normal" font-style="normal" text-anchor="start" fill="#222" stroke="#222" stroke-width="0.32" textLength="44.0" lengthAdjust="spacingAndGlyphs">*MSCI </text>
<text xml:space="preserve" x="540.0" y="213.7" font-size="12.6" font-weight="normal" font-style="normal" text-anchor="start" fill="#222" stroke="#222" stroke-width="0.32" textLength="37.3" lengthAdjust="spacingAndGlyphs">World </text>
<text xml:space="preserve" x="577.3" y="213.7" font-size="12.6" font-weight="normal" font-style="normal" text-anchor="start" fill="#222" stroke="#222" stroke-width="0.32" textLength="39.9" lengthAdjust="spacingAndGlyphs">before </text>
<text xml:space="preserve" x="617.2" y="213.7" font-size="12.6" font-weight="normal" font-style="normal" text-anchor="start" fill="#222" stroke="#222" stroke-width="0.32" textLength="68.1" lengthAdjust="spacingAndGlyphs">1987-12-31</text>
<text xml:space="preserve" x="120.9" y="234.1" font-size="12.6" font-weight="normal" font-style="normal" text-anchor="start" fill="#222" stroke="#222" stroke-width="0.32" textLength="61.0" lengthAdjust="spacingAndGlyphs">Recession </text>
<text xml:space="preserve" x="181.9" y="234.1" font-size="12.6" font-weight="normal" font-style="normal" text-anchor="start" fill="#222" stroke="#222" stroke-width="0.32" textLength="64.6" lengthAdjust="spacingAndGlyphs">Probability </text>
<text xml:space="preserve" x="246.5" y="234.1" font-size="12.6" font-weight="normal" font-style="normal" text-anchor="start" fill="#222" stroke="#222" stroke-width="0.32" textLength="38.2" lengthAdjust="spacingAndGlyphs">Model </text>
<text xml:space="preserve" x="284.7" y="234.1" font-size="12.6" font-weight="normal" font-style="normal" text-anchor="start" fill="#222" stroke="#222" stroke-width="0.32" textLength="74.3" lengthAdjust="spacingAndGlyphs">(2023-09-30 </text>
<text xml:space="preserve" x="359.0" y="234.1" font-size="12.6" font-weight="normal" font-style="normal" text-anchor="start" fill="#222" stroke="#222" stroke-width="0.32" textLength="13.2" lengthAdjust="spacingAndGlyphs">= </text>
<text xml:space="preserve" x="372.2" y="234.1" font-size="12.6" font-weight="normal" font-style="normal" text-anchor="start" fill="#222" stroke="#222" stroke-width="0.32" textLength="37.3" lengthAdjust="spacingAndGlyphs">40.83)</text>
<text xml:space="preserve" x="113.6" y="443.2" font-size="12.6" font-weight="normal" font-style="normal" text-anchor="start" fill="#222" stroke="#222" stroke-width="0.32" textLength="39.7" lengthAdjust="spacingAndGlyphs">Model </text>
<text xml:space="preserve" x="153.3" y="443.2" font-size="12.6" font-weight="normal" font-style="normal" text-anchor="start" fill="#222" stroke="#222" stroke-width="0.32" textLength="74.9" lengthAdjust="spacingAndGlyphs">rising/falling </text>
<text xml:space="preserve" x="228.2" y="443.2" font-size="12.6" font-weight="normal" font-style="normal" text-anchor="start" fill="#222" stroke="#222" stroke-width="0.32" textLength="11.5" lengthAdjust="spacingAndGlyphs">is </text>
<text xml:space="preserve" x="239.7" y="443.2" font-size="12.6" font-weight="normal" font-style="normal" text-anchor="start" fill="#222" stroke="#222" stroke-width="0.32" textLength="35.5" lengthAdjust="spacingAndGlyphs">based </text>
<text xml:space="preserve" x="275.2" y="443.2" font-size="12.6" font-weight="normal" font-style="normal" text-anchor="start" fill="#222" stroke="#222" stroke-width="0.32" textLength="19.6" lengthAdjust="spacingAndGlyphs">on </text>
<text xml:space="preserve" x="294.8" y="443.2" font-size="12.6" font-weight="normal" font-style="normal" text-anchor="start" fill="#222" stroke="#222" stroke-width="0.32" textLength="72.8" lengthAdjust="spacingAndGlyphs">three-month </text>
<text xml:space="preserve" x="367.6" y="443.2" font-size="12.6" font-weight="normal" font-style="normal" text-anchor="start" fill="#222" stroke="#222" stroke-width="0.32" textLength="49.0" lengthAdjust="spacingAndGlyphs">change. </text>
<text xml:space="preserve" x="416.6" y="443.2" font-size="12.6" font-weight="normal" font-style="normal" text-anchor="start" fill="#222" stroke="#222" stroke-width="0.32" textLength="80.6" lengthAdjust="spacingAndGlyphs">Performance </text>
<text xml:space="preserve" x="497.2" y="443.2" font-size="12.6" font-weight="normal" font-style="normal" text-anchor="start" fill="#222" stroke="#222" stroke-width="0.32" textLength="49.9" lengthAdjust="spacingAndGlyphs">statistics </text>
<text xml:space="preserve" x="547.1" y="443.2" font-size="12.6" font-weight="normal" font-style="normal" text-anchor="start" fill="#222" stroke="#222" stroke-width="0.32" textLength="36.8" lengthAdjust="spacingAndGlyphs">based </text>
<text xml:space="preserve" x="583.9" y="443.2" font-size="12.6" font-weight="normal" font-style="normal" text-anchor="start" fill="#222" stroke="#222" stroke-width="0.32" textLength="18.0" lengthAdjust="spacingAndGlyphs">on </text>
<text xml:space="preserve" x="601.9" y="443.2" font-size="12.6" font-weight="normal" font-style="normal" text-anchor="start" fill="#222" stroke="#222" stroke-width="0.32" textLength="26.4" lengthAdjust="spacingAndGlyphs">end </text>
<text xml:space="preserve" x="628.3" y="443.2" font-size="12.6" font-weight="normal" font-style="normal" text-anchor="start" fill="#222" stroke="#222" stroke-width="0.32" textLength="29.2" lengthAdjust="spacingAndGlyphs">date </text>
<text xml:space="preserve" x="657.5" y="443.2" font-size="12.6" font-weight="normal" font-style="normal" text-anchor="start" fill="#222" stroke="#222" stroke-width="0.32" textLength="13.3" lengthAdjust="spacingAndGlyphs">of </text>
<text xml:space="preserve" x="670.8" y="443.2" font-size="12.6" font-weight="normal" font-style="normal" text-anchor="start" fill="#222" stroke="#222" stroke-width="0.32" textLength="32.7" lengthAdjust="spacingAndGlyphs">MSCI </text>
<text xml:space="preserve" x="703.5" y="443.2" font-size="12.6" font-weight="normal" font-style="normal" text-anchor="start" fill="#222" stroke="#222" stroke-width="0.32" textLength="34.8" lengthAdjust="spacingAndGlyphs">ACWI</text>
<text xml:space="preserve" x="880.4" y="213.7" font-size="10.6" font-weight="bold" font-style="italic" text-anchor="start" fill="#111" stroke="#111" stroke-width="0.22" textLength="35.4" lengthAdjust="spacingAndGlyphs">Source:</text>
<text xml:space="preserve" x="925.0" y="213.7" font-size="10.6" font-weight="normal" font-style="italic" text-anchor="start" fill="#5b8db1" stroke="#5b8db1" stroke-width="0.05" textLength="25.6" lengthAdjust="spacingAndGlyphs">MSCI</text>
<text xml:space="preserve" x="785.9" y="442.9" font-size="10.6" font-weight="bold" font-style="italic" text-anchor="start" fill="#111" stroke="#111" stroke-width="0.22" textLength="35.7" lengthAdjust="spacingAndGlyphs">Source:</text>
<text xml:space="preserve" x="831.4" y="442.9" font-size="10.6" font-weight="normal" font-style="italic" text-anchor="start" fill="#222" stroke="#222" stroke-width="0.15" textLength="118.3" lengthAdjust="spacingAndGlyphs">Ned Davis Research, Inc.</text>
<polygon points="906,378.9 906.4,401.6 901.6,400.2 892.7,419.3 886,416.2 894.4,397.1 890,395.8" fill="#e81c24"/>
<polygon points="923.8,315 933.6,310.6 942,331 947.8,328.8 946.9,353.2 927.8,337.7 932.7,335.9" fill="#1a9a3c"/>
<rect x="110.5" y="608.5" width="203.0" height="16.0" fill="#cccccc"/>
<rect x="110.5" y="511.5" width="203.0" height="145.0" fill="none" stroke="#303030" stroke-width="1.1"/>
<line x1="110.5" x2="313.5" y1="562.5" y2="562.5" stroke="#303030" stroke-width="1.1"/>
<line x1="110.5" x2="313.5" y1="592.5" y2="592.5" stroke="#303030" stroke-width="1.1"/>
<line x1="110.5" x2="313.5" y1="608.5" y2="608.5" stroke="#303030" stroke-width="1.1"/>
<line x1="110.5" x2="313.5" y1="624.5" y2="624.5" stroke="#303030" stroke-width="1.1"/>
<line x1="110.5" x2="313.5" y1="640.5" y2="640.5" stroke="#303030" stroke-width="1.1"/>
<line x1="224.5" x2="224.5" y1="562.5" y2="640.5" stroke="#303030" stroke-width="1.1"/>
<line x1="273.5" x2="273.5" y1="562.5" y2="640.5" stroke="#303030" stroke-width="1.1"/>
<text xml:space="preserve" x="212.0" y="527.6" font-size="12" font-weight="bold" font-style="normal" text-anchor="middle" fill="#111" stroke="#111" stroke-width="0.22" textLength="180.4" lengthAdjust="spacingAndGlyphs">Returns Regardless of Direction</text>
<text xml:space="preserve" x="212.0" y="542.1" font-size="10.6" font-weight="normal" font-style="normal" text-anchor="middle" fill="#222" stroke="#222" stroke-width="0.32" textLength="93.6" lengthAdjust="spacingAndGlyphs">ACWI Performance</text>
<text xml:space="preserve" x="113.4" y="555.8" font-size="10.6" font-weight="bold" font-style="normal" text-anchor="start" fill="#111" stroke="#111" stroke-width="0.22" textLength="57.5" lengthAdjust="spacingAndGlyphs">Chart View:</text>
<text xml:space="preserve" x="174.6" y="555.8" font-size="10.6" font-weight="normal" font-style="normal" text-anchor="start" fill="#111" stroke="#111" stroke-width="0.32" textLength="132.7" lengthAdjust="spacingAndGlyphs">1987-12-31 to 2023-07-31</text>
<text xml:space="preserve" x="167.7" y="574.1" font-size="10.6" font-weight="normal" font-style="normal" text-anchor="middle" fill="#222" stroke="#222" stroke-width="0.32" textLength="102.7" lengthAdjust="spacingAndGlyphs">Recession Probability</text>
<text xml:space="preserve" x="167.7" y="588.1" font-size="10.6" font-weight="normal" font-style="normal" text-anchor="middle" fill="#222" stroke="#222" stroke-width="0.32" textLength="30.6" lengthAdjust="spacingAndGlyphs">Model</text>
<text xml:space="preserve" x="248.3" y="574.1" font-size="10.6" font-weight="normal" font-style="normal" text-anchor="middle" fill="#222" stroke="#222" stroke-width="0.32" textLength="37.1" lengthAdjust="spacingAndGlyphs">% Gain/</text>
<text xml:space="preserve" x="249.0" y="588.1" font-size="10.6" font-weight="normal" font-style="normal" text-anchor="middle" fill="#222" stroke="#222" stroke-width="0.32" textLength="34.4" lengthAdjust="spacingAndGlyphs">Annum</text>
<text xml:space="preserve" x="292.8" y="574.1" font-size="10.6" font-weight="normal" font-style="normal" text-anchor="middle" fill="#222" stroke="#222" stroke-width="0.32" textLength="20.2" lengthAdjust="spacingAndGlyphs">% of</text>
<text xml:space="preserve" x="293.5" y="588.1" font-size="10.6" font-weight="normal" font-style="normal" text-anchor="middle" fill="#222" stroke="#222" stroke-width="0.32" textLength="22.9" lengthAdjust="spacingAndGlyphs">Time</text>
<text xml:space="preserve" x="170.1" y="603.9" font-size="10.6" font-weight="normal" font-style="normal" text-anchor="middle" fill="#222" stroke="#222" stroke-width="0.32" textLength="55.2" lengthAdjust="spacingAndGlyphs">Above 70.0</text>
<text xml:space="preserve" x="266.2" y="603.9" font-size="10.6" font-weight="normal" font-style="normal" text-anchor="end" fill="#222" stroke="#222" stroke-width="0.32">4.34</text>
<text xml:space="preserve" x="307.2" y="603.9" font-size="10.6" font-weight="normal" font-style="normal" text-anchor="end" fill="#222" stroke="#222" stroke-width="0.32">30.66</text>
<text xml:space="preserve" x="170.1" y="619.9" font-size="10.6" font-weight="normal" font-style="normal" text-anchor="middle" fill="#222" stroke="#222" stroke-width="0.32" textLength="53.2" lengthAdjust="spacingAndGlyphs">30.0 - 70.0</text>
<text xml:space="preserve" x="266.2" y="619.9" font-size="10.6" font-weight="normal" font-style="normal" text-anchor="end" fill="#222" stroke="#222" stroke-width="0.32">4.21</text>
<text xml:space="preserve" x="307.2" y="619.9" font-size="10.6" font-weight="normal" font-style="normal" text-anchor="end" fill="#222" stroke="#222" stroke-width="0.32">31.19</text>
<text xml:space="preserve" x="170.1" y="635.9" font-size="10.6" font-weight="normal" font-style="normal" text-anchor="middle" fill="#222" stroke="#222" stroke-width="0.32" textLength="54.8" lengthAdjust="spacingAndGlyphs">Below 30.0</text>
<text xml:space="preserve" x="266.2" y="635.9" font-size="10.6" font-weight="normal" font-style="normal" text-anchor="end" fill="#222" stroke="#222" stroke-width="0.32">9.35</text>
<text xml:space="preserve" x="307.2" y="635.9" font-size="10.6" font-weight="normal" font-style="normal" text-anchor="end" fill="#222" stroke="#222" stroke-width="0.32">38.15</text>
<text xml:space="preserve" x="119.6" y="651.6" font-size="10.6" font-weight="normal" font-style="italic" text-anchor="start" fill="#222" stroke="#222" stroke-width="0.32" textLength="154.2" lengthAdjust="spacingAndGlyphs">Buy/Hold = 6.18% Gain/Annum</text>
<rect x="427.5" y="503.5" width="203.0" height="161.0" fill="none" stroke="#303030" stroke-width="1.1"/>
<line x1="427.5" x2="630.5" y1="570.5" y2="570.5" stroke="#303030" stroke-width="1.1"/>
<line x1="427.5" x2="630.5" y1="600.5" y2="600.5" stroke="#303030" stroke-width="1.1"/>
<line x1="427.5" x2="630.5" y1="616.5" y2="616.5" stroke="#303030" stroke-width="1.1"/>
<line x1="427.5" x2="630.5" y1="632.5" y2="632.5" stroke="#303030" stroke-width="1.1"/>
<line x1="427.5" x2="630.5" y1="648.5" y2="648.5" stroke="#303030" stroke-width="1.1"/>
<line x1="541.5" x2="541.5" y1="570.5" y2="648.5" stroke="#303030" stroke-width="1.1"/>
<line x1="590.5" x2="590.5" y1="570.5" y2="648.5" stroke="#303030" stroke-width="1.1"/>
<text xml:space="preserve" x="529.0" y="518.6" font-size="12" font-weight="bold" font-style="normal" text-anchor="middle" fill="#111" stroke="#111" stroke-width="0.22" textLength="120.9" lengthAdjust="spacingAndGlyphs">Recession Probability</text>
<text xml:space="preserve" x="492.2" y="535.8" font-size="12" font-weight="bold" font-style="normal" text-anchor="start" fill="#111" stroke="#111" stroke-width="0.22" textLength="34.6" lengthAdjust="spacingAndGlyphs">Model</text>
<text xml:space="preserve" x="532.7" y="535.8" font-size="12" font-weight="bold" font-style="normal" text-anchor="start" fill="#111" stroke="#111" stroke-width="0.22" textLength="33.2" lengthAdjust="spacingAndGlyphs">Rising</text>
<text xml:space="preserve" x="529.0" y="550.1" font-size="10.6" font-weight="normal" font-style="normal" text-anchor="middle" fill="#222" stroke="#222" stroke-width="0.32" textLength="93.6" lengthAdjust="spacingAndGlyphs">ACWI Performance</text>
<text xml:space="preserve" x="430.4" y="563.8" font-size="10.6" font-weight="bold" font-style="normal" text-anchor="start" fill="#111" stroke="#111" stroke-width="0.22" textLength="57.5" lengthAdjust="spacingAndGlyphs">Chart View:</text>
<text xml:space="preserve" x="491.6" y="563.8" font-size="10.6" font-weight="normal" font-style="normal" text-anchor="start" fill="#111" stroke="#111" stroke-width="0.32" textLength="132.7" lengthAdjust="spacingAndGlyphs">1987-12-31 to 2023-07-31</text>
<text xml:space="preserve" x="484.7" y="582.1" font-size="10.6" font-weight="normal" font-style="normal" text-anchor="middle" fill="#222" stroke="#222" stroke-width="0.32" textLength="102.7" lengthAdjust="spacingAndGlyphs">Recession Probability</text>
<text xml:space="preserve" x="484.7" y="596.1" font-size="10.6" font-weight="normal" font-style="normal" text-anchor="middle" fill="#222" stroke="#222" stroke-width="0.32" textLength="30.6" lengthAdjust="spacingAndGlyphs">Model</text>
<text xml:space="preserve" x="565.3" y="582.1" font-size="10.6" font-weight="normal" font-style="normal" text-anchor="middle" fill="#222" stroke="#222" stroke-width="0.32" textLength="37.1" lengthAdjust="spacingAndGlyphs">% Gain/</text>
<text xml:space="preserve" x="566.0" y="596.1" font-size="10.6" font-weight="normal" font-style="normal" text-anchor="middle" fill="#222" stroke="#222" stroke-width="0.32" textLength="34.4" lengthAdjust="spacingAndGlyphs">Annum</text>
<text xml:space="preserve" x="609.8" y="582.1" font-size="10.6" font-weight="normal" font-style="normal" text-anchor="middle" fill="#222" stroke="#222" stroke-width="0.32" textLength="20.2" lengthAdjust="spacingAndGlyphs">% of</text>
<text xml:space="preserve" x="610.5" y="596.1" font-size="10.6" font-weight="normal" font-style="normal" text-anchor="middle" fill="#222" stroke="#222" stroke-width="0.32" textLength="22.9" lengthAdjust="spacingAndGlyphs">Time</text>
<text xml:space="preserve" x="487.1" y="611.9" font-size="10.6" font-weight="normal" font-style="normal" text-anchor="middle" fill="#222" stroke="#222" stroke-width="0.32" textLength="55.2" lengthAdjust="spacingAndGlyphs">Above 70.0</text>
<text xml:space="preserve" x="583.2" y="611.9" font-size="10.6" font-weight="normal" font-style="normal" text-anchor="end" fill="#222" stroke="#222" stroke-width="0.32">-3.84</text>
<text xml:space="preserve" x="624.2" y="611.9" font-size="10.6" font-weight="normal" font-style="normal" text-anchor="end" fill="#222" stroke="#222" stroke-width="0.32">18.98</text>
<text xml:space="preserve" x="487.1" y="627.9" font-size="10.6" font-weight="normal" font-style="normal" text-anchor="middle" fill="#222" stroke="#222" stroke-width="0.32" textLength="53.2" lengthAdjust="spacingAndGlyphs">30.0 - 70.0</text>
<text xml:space="preserve" x="583.2" y="627.9" font-size="10.6" font-weight="normal" font-style="normal" text-anchor="end" fill="#222" stroke="#222" stroke-width="0.32">0.82</text>
<text xml:space="preserve" x="624.2" y="627.9" font-size="10.6" font-weight="normal" font-style="normal" text-anchor="end" fill="#222" stroke="#222" stroke-width="0.32">16.64</text>
<text xml:space="preserve" x="487.1" y="643.9" font-size="10.6" font-weight="normal" font-style="normal" text-anchor="middle" fill="#222" stroke="#222" stroke-width="0.32" textLength="54.8" lengthAdjust="spacingAndGlyphs">Below 30.0</text>
<text xml:space="preserve" x="583.2" y="643.9" font-size="10.6" font-weight="normal" font-style="normal" text-anchor="end" fill="#222" stroke="#222" stroke-width="0.32">8.77</text>
<text xml:space="preserve" x="624.2" y="643.9" font-size="10.6" font-weight="normal" font-style="normal" text-anchor="end" fill="#222" stroke="#222" stroke-width="0.32">15.26</text>
<text xml:space="preserve" x="436.6" y="659.6" font-size="10.6" font-weight="normal" font-style="italic" text-anchor="start" fill="#222" stroke="#222" stroke-width="0.32" textLength="154.2" lengthAdjust="spacingAndGlyphs">Buy/Hold = 6.18% Gain/Annum</text>
<rect x="744.5" y="616.5" width="203.0" height="16.0" fill="#cccccc"/>
<rect x="744.5" y="503.5" width="203.0" height="161.0" fill="none" stroke="#303030" stroke-width="1.1"/>
<line x1="744.5" x2="947.5" y1="570.5" y2="570.5" stroke="#303030" stroke-width="1.1"/>
<line x1="744.5" x2="947.5" y1="600.5" y2="600.5" stroke="#303030" stroke-width="1.1"/>
<line x1="744.5" x2="947.5" y1="616.5" y2="616.5" stroke="#303030" stroke-width="1.1"/>
<line x1="744.5" x2="947.5" y1="632.5" y2="632.5" stroke="#303030" stroke-width="1.1"/>
<line x1="744.5" x2="947.5" y1="648.5" y2="648.5" stroke="#303030" stroke-width="1.1"/>
<line x1="858.5" x2="858.5" y1="570.5" y2="648.5" stroke="#303030" stroke-width="1.1"/>
<line x1="907.5" x2="907.5" y1="570.5" y2="648.5" stroke="#303030" stroke-width="1.1"/>
<text xml:space="preserve" x="846.0" y="518.6" font-size="12" font-weight="bold" font-style="normal" text-anchor="middle" fill="#111" stroke="#111" stroke-width="0.22" textLength="120.9" lengthAdjust="spacingAndGlyphs">Recession Probability</text>
<text xml:space="preserve" x="807.6" y="535.8" font-size="12" font-weight="bold" font-style="normal" text-anchor="start" fill="#111" stroke="#111" stroke-width="0.22" textLength="36.0" lengthAdjust="spacingAndGlyphs">Model</text>
<text xml:space="preserve" x="847.9" y="535.8" font-size="12" font-weight="bold" font-style="normal" text-anchor="start" fill="#111" stroke="#111" stroke-width="0.22" textLength="36.0" lengthAdjust="spacingAndGlyphs">Falling</text>
<text xml:space="preserve" x="846.0" y="550.1" font-size="10.6" font-weight="normal" font-style="normal" text-anchor="middle" fill="#222" stroke="#222" stroke-width="0.32" textLength="93.6" lengthAdjust="spacingAndGlyphs">ACWI Performance</text>
<text xml:space="preserve" x="747.4" y="563.8" font-size="10.6" font-weight="bold" font-style="normal" text-anchor="start" fill="#111" stroke="#111" stroke-width="0.22" textLength="57.5" lengthAdjust="spacingAndGlyphs">Chart View:</text>
<text xml:space="preserve" x="808.6" y="563.8" font-size="10.6" font-weight="normal" font-style="normal" text-anchor="start" fill="#111" stroke="#111" stroke-width="0.32" textLength="132.7" lengthAdjust="spacingAndGlyphs">1987-12-31 to 2023-07-31</text>
<text xml:space="preserve" x="801.7" y="582.1" font-size="10.6" font-weight="normal" font-style="normal" text-anchor="middle" fill="#222" stroke="#222" stroke-width="0.32" textLength="102.7" lengthAdjust="spacingAndGlyphs">Recession Probability</text>
<text xml:space="preserve" x="801.7" y="596.1" font-size="10.6" font-weight="normal" font-style="normal" text-anchor="middle" fill="#222" stroke="#222" stroke-width="0.32" textLength="30.6" lengthAdjust="spacingAndGlyphs">Model</text>
<text xml:space="preserve" x="882.3" y="582.1" font-size="10.6" font-weight="normal" font-style="normal" text-anchor="middle" fill="#222" stroke="#222" stroke-width="0.32" textLength="37.1" lengthAdjust="spacingAndGlyphs">% Gain/</text>
<text xml:space="preserve" x="883.0" y="596.1" font-size="10.6" font-weight="normal" font-style="normal" text-anchor="middle" fill="#222" stroke="#222" stroke-width="0.32" textLength="34.4" lengthAdjust="spacingAndGlyphs">Annum</text>
<text xml:space="preserve" x="926.8" y="582.1" font-size="10.6" font-weight="normal" font-style="normal" text-anchor="middle" fill="#222" stroke="#222" stroke-width="0.32" textLength="20.2" lengthAdjust="spacingAndGlyphs">% of</text>
<text xml:space="preserve" x="927.5" y="596.1" font-size="10.6" font-weight="normal" font-style="normal" text-anchor="middle" fill="#222" stroke="#222" stroke-width="0.32" textLength="22.9" lengthAdjust="spacingAndGlyphs">Time</text>
<text xml:space="preserve" x="804.1" y="611.9" font-size="10.6" font-weight="normal" font-style="normal" text-anchor="middle" fill="#222" stroke="#222" stroke-width="0.32" textLength="55.2" lengthAdjust="spacingAndGlyphs">Above 70.0</text>
<text xml:space="preserve" x="900.2" y="611.9" font-size="10.6" font-weight="normal" font-style="normal" text-anchor="end" fill="#222" stroke="#222" stroke-width="0.32">19.13</text>
<text xml:space="preserve" x="941.2" y="611.9" font-size="10.6" font-weight="normal" font-style="normal" text-anchor="end" fill="#222" stroke="#222" stroke-width="0.32">11.68</text>
<text xml:space="preserve" x="804.1" y="627.9" font-size="10.6" font-weight="normal" font-style="normal" text-anchor="middle" fill="#222" stroke="#222" stroke-width="0.32" textLength="53.2" lengthAdjust="spacingAndGlyphs">30.0 - 70.0</text>
<text xml:space="preserve" x="900.2" y="627.9" font-size="10.6" font-weight="normal" font-style="normal" text-anchor="end" fill="#222" stroke="#222" stroke-width="0.32">8.22</text>
<text xml:space="preserve" x="941.2" y="627.9" font-size="10.6" font-weight="normal" font-style="normal" text-anchor="end" fill="#222" stroke="#222" stroke-width="0.32">14.55</text>
<text xml:space="preserve" x="804.1" y="643.9" font-size="10.6" font-weight="normal" font-style="normal" text-anchor="middle" fill="#222" stroke="#222" stroke-width="0.32" textLength="54.8" lengthAdjust="spacingAndGlyphs">Below 30.0</text>
<text xml:space="preserve" x="900.2" y="643.9" font-size="10.6" font-weight="normal" font-style="normal" text-anchor="end" fill="#222" stroke="#222" stroke-width="0.32">9.73</text>
<text xml:space="preserve" x="941.2" y="643.9" font-size="10.6" font-weight="normal" font-style="normal" text-anchor="end" fill="#222" stroke="#222" stroke-width="0.32">22.89</text>
<text xml:space="preserve" x="753.6" y="659.6" font-size="10.6" font-weight="normal" font-style="italic" text-anchor="start" fill="#222" stroke="#222" stroke-width="0.32" textLength="154.2" lengthAdjust="spacingAndGlyphs">Buy/Hold = 6.18% Gain/Annum</text>
<path d="M423.7,606.0 Q423.7,603.2 426.7,602.8 C468.0,594.4 592.0,594.4 633.3,602.8 Q636.3,603.2 636.3,606.0 L636.3,622.0 Q636.3,623.8 633.3,624.2 C592.0,635.1 468.0,635.1 426.7,624.2 Q423.7,623.8 423.7,622.0 Z" fill="none" stroke="#e5141f" stroke-width="3.0" stroke-linejoin="round"/>
<path d="M528.3,527.0 Q528.3,525.4 531.3,525.0 C536.6,521.5 561.1,521.5 566.4,525.0 Q569.4,525.4 569.4,527.0 L569.4,536.8 Q569.4,538.4 566.4,538.8 C561.1,542.3 536.6,542.3 531.3,538.8 Q528.3,538.4 528.3,536.8 Z" fill="none" stroke="#e5141f" stroke-width="2.85" stroke-linejoin="round"/>
<path d="M740.6,607.0 Q740.6,604.0 743.6,603.6 C768.1,595.6 922.9,595.6 947.4,603.6 Q950.4,604.0 950.4,607.0 L950.4,624.5 Q950.4,627.2 947.4,627.6 C922.9,637.9 768.1,637.9 743.6,627.6 Q740.6,627.2 740.6,624.5 Z" fill="none" stroke="#12963a" stroke-width="3.0" stroke-linejoin="round"/>
<path d="M844.4,527.0 Q844.4,525.0 847.4,524.6 C853.4,520.5 881.6,520.5 887.6,524.6 Q890.6,525.0 890.6,527.0 L890.6,537.2 Q890.6,539.4 887.6,539.8 C881.6,544.2 853.4,544.2 847.4,539.8 Q844.4,539.4 844.4,537.2 Z" fill="none" stroke="#12963a" stroke-width="2.85" stroke-linejoin="round"/>
</svg>
</body></html>
